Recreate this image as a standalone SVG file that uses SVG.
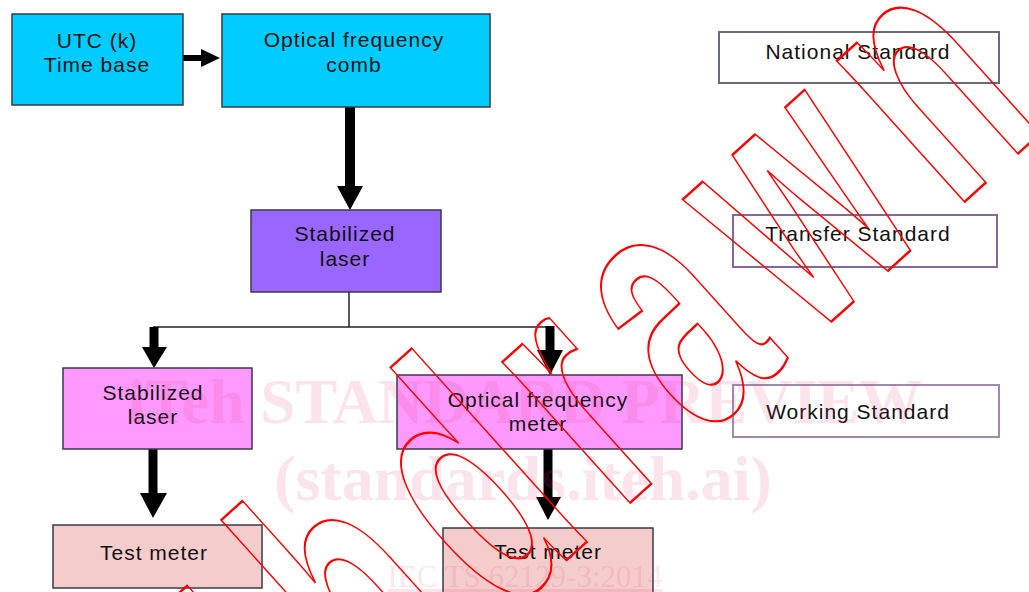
<svg xmlns="http://www.w3.org/2000/svg" width="1029" height="592" viewBox="0 0 1029 592">
<defs>
<style>
.box{stroke:#3a3a4a;stroke-width:1.5}
.lbl{font-family:"Liberation Sans",Arial,sans-serif;font-size:21px;letter-spacing:1px;fill:#111;text-anchor:middle}
.shaft{stroke:#000;stroke-linecap:butt}
.thin{stroke:#222;stroke-width:1.5;fill:none}
.head{fill:#000}
.wm{font-family:"Liberation Serif","Times New Roman",serif;fill:#E0406F;fill-opacity:0.14;text-anchor:middle}
.wd{font-family:"Liberation Sans",Arial,sans-serif;font-size:100px;font-weight:bold;letter-spacing:14px;fill:none;stroke:#FF0000;stroke-width:2;stroke-linejoin:miter}
</style>
</defs>
<rect width="1029" height="592" fill="#fff"/>

<g id="connectors">
<line class="shaft" x1="183" y1="58" x2="203" y2="58" stroke-width="6"/>
<polygon class="head" points="201,49 220,58 201,67"/>
<line class="shaft" x1="350" y1="107" x2="350" y2="188" stroke-width="10"/>
<polygon class="head" points="337,186 363,186 350,210"/>
<line class="thin" x1="349" y1="292" x2="349" y2="327"/>
<line class="thin" x1="153" y1="327" x2="551" y2="327"/>
<line class="shaft" x1="154" y1="327" x2="154" y2="348" stroke-width="9"/>
<polygon class="head" points="142,347 167,347 154,368"/>
<line class="shaft" x1="550" y1="326" x2="550" y2="351" stroke-width="9"/>
<polygon class="head" points="537,350 563,350 550,375"/>
<line class="shaft" x1="153" y1="449" x2="153" y2="494" stroke-width="9"/>
<polygon class="head" points="140,493 167,493 153,518"/>
<line class="shaft" x1="548" y1="449" x2="548" y2="498" stroke-width="9"/>
<polygon class="head" points="536,497 561,497 548,520"/>
</g>

<g id="utc">
<rect class="box" x="12" y="14" width="171" height="91" fill="#00CCFF"/>
<text class="lbl" x="97" y="48">UTC (k)</text>
<text class="lbl" x="97" y="72">Time base</text>
</g>
<g id="comb">
<rect class="box" x="222" y="14" width="268" height="93" fill="#00CCFF"/>
<text class="lbl" x="354" y="47">Optical frequency</text>
<text class="lbl" x="354" y="72">comb</text>
</g>
<g id="stab1">
<rect class="box" x="251" y="210" width="190" height="82" fill="#9966FF"/>
<text class="lbl" x="345" y="241">Stabilized</text>
<text class="lbl" x="345" y="266">laser</text>
</g>
<g id="stab2">
<rect class="box" x="63" y="368" width="189" height="81" fill="#FF99FF"/>
<text class="lbl" x="153" y="400">Stabilized</text>
<text class="lbl" x="153" y="424">laser</text>
</g>
<g id="ofm">
<rect class="box" x="397" y="375" width="285" height="74" fill="#FF99FF"/>
<text class="lbl" x="538" y="407">Optical frequency</text>
<text class="lbl" x="538" y="431">meter</text>
</g>
<g id="test1">
<rect class="box" x="53" y="525" width="209" height="63" fill="#F5CCCC"/>
<text class="lbl" x="154" y="560">Test meter</text>
</g>
<g id="test2">
<rect class="box" x="443" y="528" width="210" height="70" fill="#F5CCCC"/>
<text class="lbl" x="548" y="559">Test meter</text>
</g>
<g id="national">
<rect x="719" y="32" width="280" height="51" fill="#fff" stroke="#6B6B80" stroke-width="2"/>
<text class="lbl" x="858" y="59">National Standard</text>
</g>
<g id="transfer">
<rect x="733" y="215" width="264" height="52" fill="#fff" stroke="#86689A" stroke-width="2"/>
<text class="lbl" x="858" y="241">Transfer Standard</text>
</g>
<g id="working">
<rect x="733" y="385" width="266" height="52" fill="#fff" stroke="#A08AB2" stroke-width="2"/>
<text class="lbl" x="858" y="419">Working Standard</text>
</g>

<g id="watermark">
<text class="wm" x="525" y="423" font-size="63" font-weight="bold">iTeh STANDARD PREVIEW</text>
<text class="wm" x="523" y="500" font-size="64" font-weight="bold">(standards.iteh.ai)</text>
<text class="wm" x="525" y="587" font-size="31" text-decoration="underline">IEC TS 62129-3:2014</text>
<text class="wd" transform="translate(78,1000) rotate(-42) scale(2.1,3.6)" vector-effect="non-scaling-stroke">Withdrawn</text>
</g>
</svg>
